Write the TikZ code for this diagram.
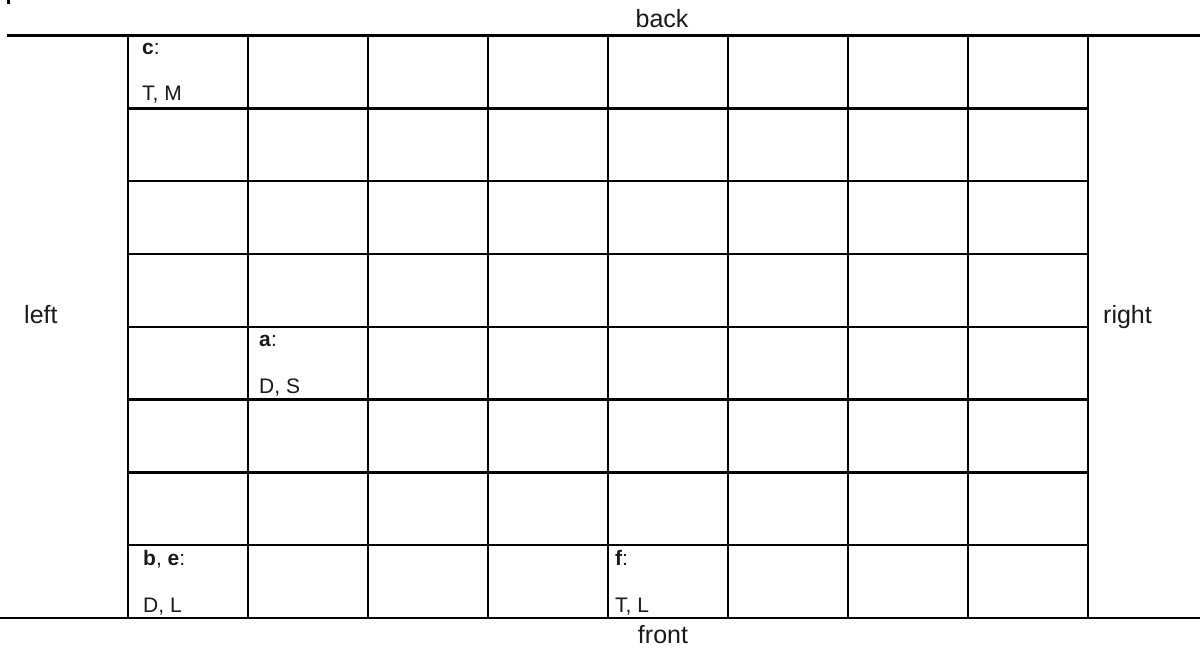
\documentclass[tikz,border=0pt]{standalone}
\usepackage{fontspec}
\setmainfont{Liberation Sans}
\begin{document}
\begin{tikzpicture}[x=1pt,y=-1pt,line width=2.4pt,
  lbl/.style={font=\fontsize{25}{30}\selectfont,inner sep=0pt,text=black!90},
  celltext/.style={font=\fontsize{21}{25}\selectfont,inner sep=0pt,anchor=base west,text=black!90}]
\useasboundingbox (0,0) rectangle (1200,652);
\fill (7,0) rectangle (9.5,4);
\coordinate (tl) at (7,35.5);
\coordinate (tr) at (1200,35.5);
\coordinate (bl) at (0,618);
\coordinate (br) at (1200,618);
\draw (tl) -- (tr);
\draw (bl) -- (br);
\foreach \i in {0,...,8} \draw ({128+120*\i},35.5) -- ({128+120*\i},618);
\foreach \j in {1,...,7} \draw (128,{35.5+72.81*\j}) -- (1088,{35.5+72.81*\j});
% labels
\node[lbl,anchor=base] (back) at (662,28) {back};
\node[lbl,anchor=base] (front) at (663,643) {front};
\node[lbl,anchor=base west] (left) at (23,324) {left};
\node[lbl,anchor=base west] (right) at (1102,324) {right};
% cell texts
\node[celltext] (c1) at (141,55) {\textbf{c}:};
\node[celltext] (c2) at (141,101) {T, M};
\node[celltext] (a1) at (258,346.5) {\textbf{a}:};
\node[celltext] (a2) at (258,393) {D, S};
\node[celltext] (b1) at (142,565) {\textbf{b}, \textbf{e}:};
\node[celltext] (b2) at (142,612) {D, L};
\node[celltext] (f1) at (614,565) {\textbf{f}:};
\node[celltext] (f2) at (614,612) {T, L};
\end{tikzpicture}
\end{document}
